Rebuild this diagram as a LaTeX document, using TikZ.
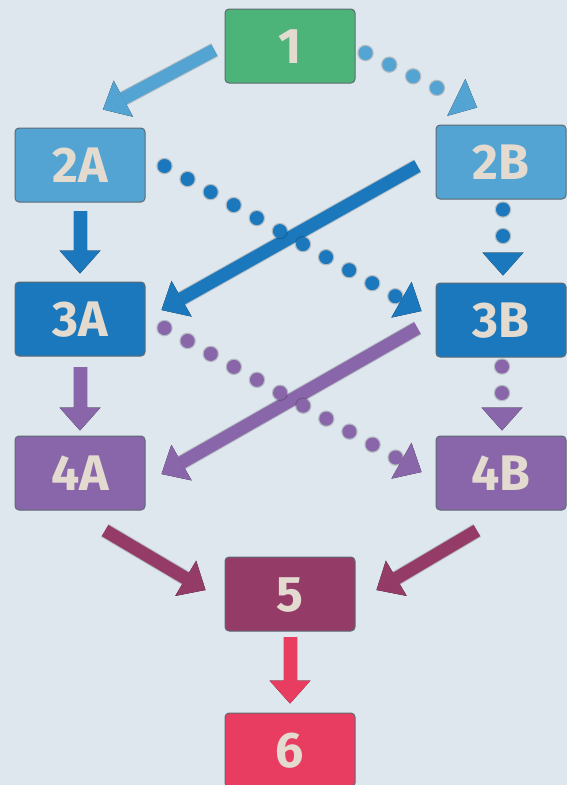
\documentclass[tikz,border=0pt]{standalone}
\usepackage{fontspec}
\setmainfont{Fira Sans}
\usetikzlibrary{arrows.meta}
\definecolor{bg}{HTML}{DDE7ED}
\definecolor{cgreen}{HTML}{4CB478}
\definecolor{clblue}{HTML}{53A3D3}
\definecolor{cdblue}{HTML}{1B78BD}
\definecolor{cpurple}{HTML}{8966AA}
\definecolor{cmaroon}{HTML}{943B67}
\definecolor{cred}{HTML}{E83D61}
\definecolor{txt}{HTML}{E3DBCF}
\definecolor{edge}{HTML}{5E6A72}
\tikzset{
  box/.style={rectangle, rounded corners=4pt, minimum width=130pt, minimum height=74pt,
    inner sep=0pt, text=txt, font=\fontsize{50}{50}\selectfont\bfseries,
    text height=35pt, text depth=0pt, draw=edge, line width=1pt},
  sarrow/.style={line width=13pt, -{Triangle[length=23pt,width=41pt,line width=0pt]},
    preaction={draw=black, draw opacity=.18, line width=15pt}},
  darrow/.style={line width=14pt, line cap=round, dash pattern=on 0pt off 26.5pt,
    -{Triangle[length=23pt,width=41pt,line width=0pt]},
    preaction={draw=black, draw opacity=.18, line width=16.5pt, line cap=round,
      dash pattern=on 0pt off 26.5pt}}
}
\begin{document}
\begin{tikzpicture}[x=1pt,y=-1pt]
\fill[bg] (0,0) rectangle (567,785);
\useasboundingbox (0,0) rectangle (567,785);

\node[box, fill=cgreen]  (n1)  at (290,46)  {1};
\node[box, fill=clblue]  (n2A) at (80,165)  {2A};
\node[box, fill=clblue]  (n2B) at (501,162) {2B};
\node[box, fill=cdblue]  (n3A) at (80,319)  {3A};
\node[box, fill=cdblue]  (n3B) at (501,320) {3B};
\node[box, fill=cpurple] (n4A) at (80,473)  {4A};
\node[box, fill=cpurple] (n4B) at (501,473) {4B};
\node[box, fill=cmaroon] (n5)  at (290,594) {5};
\node[box, fill=cred]    (n6)  at (290,750) {6};

% solid connectors
\draw[sarrow, clblue]  ([xshift=-10pt,yshift=-4pt]n1.west) -- ([xshift=23pt,yshift=18pt]n2A.north);
\draw[sarrow, cdblue]  ([yshift=-8pt]n2A.south) -- ([yshift=8pt]n3A.north);
\draw[sarrow, cdblue]  ([xshift=-18pt,yshift=-4pt]n2B.west) -- ([xshift=16pt,yshift=9pt]n3A.east);
\draw[sarrow, cpurple] ([yshift=-10pt]n3A.south) -- ([yshift=5pt]n4A.north);
\draw[sarrow, cpurple] ([xshift=-18pt,yshift=-8pt]n3B.west) -- ([xshift=16pt,yshift=-1pt]n4A.east);
\draw[sarrow, cmaroon] ([xshift=25pt,yshift=-20pt]n4A.south) -- ([xshift=-19pt,yshift=4pt]n5.west);
\draw[sarrow, cmaroon] ([xshift=-24pt,yshift=-20pt]n4B.south) -- ([xshift=21pt,yshift=4pt]n5.east);
\draw[sarrow, cred]    ([yshift=-5pt]n5.south) -- ([yshift=9pt]n6.north);

% dotted connectors
\draw[darrow, clblue]  ([xshift=10pt,yshift=-7pt]n1.east) -- ([xshift=-24pt,yshift=17pt]n2B.north);
\draw[darrow, cdblue]  ([xshift=19pt,yshift=-1pt]n2A.east) -- ([xshift=-14pt,yshift=9pt]n3B.west);
\draw[darrow, cdblue]  ([xshift=2pt,yshift=-10pt]n2B.south) -- ([xshift=2pt,yshift=7pt]n3B.north);
\draw[darrow, cpurple] ([xshift=19pt,yshift=-9pt]n3A.east) -- ([xshift=-14pt,yshift=1pt]n4B.west);
\draw[darrow, cpurple] ([xshift=1pt,yshift=-9pt]n3B.south) -- ([xshift=1pt,yshift=5pt]n4B.north);
\end{tikzpicture}
\end{document}
